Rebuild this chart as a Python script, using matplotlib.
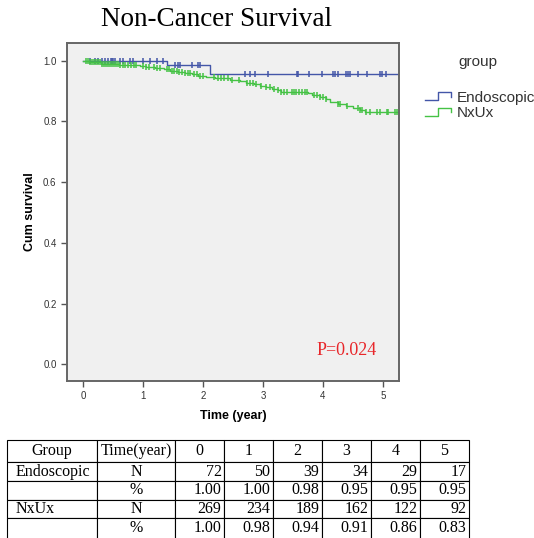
import numpy as np
import matplotlib
matplotlib.use("Agg")
import matplotlib.pyplot as plt
from matplotlib.lines import Line2D
from matplotlib.legend_handler import HandlerBase
from matplotlib.table import Table

# Kaplan-Meier steps (time, survival after the drop)
endo_times = [1.40, 2.12]
endo_surv = [0.984, 0.956]
endo_cens = [0.12, 0.20, 0.25, 0.32, 0.37, 0.42, 0.46, 0.48, 0.50, 0.53, 0.62, 0.67,
             0.78, 0.83, 1.00, 1.12, 1.23, 1.33, 1.53, 1.58, 1.62, 1.81, 1.92, 1.95,
             2.70, 2.78, 2.87, 3.08, 3.56, 3.59, 3.76, 3.98, 4.17, 4.20, 4.26, 4.39,
             4.42, 4.45, 4.59, 4.73, 4.95, 4.98, 5.06]

nxux_times = [0.10, 0.30, 0.60, 0.80, 0.95, 1.05, 1.20, 1.35, 1.45, 1.58, 1.70, 1.82,
              1.92, 2.05, 2.20, 2.45, 2.62, 2.72, 2.85, 2.95, 3.05, 3.15, 3.25, 3.30,
              3.75, 3.82, 3.95, 4.05, 4.12, 4.25, 4.38, 4.50, 4.62, 4.70]
nxux_surv = [0.994, 0.990, 0.987, 0.984, 0.981, 0.978, 0.975, 0.971, 0.967, 0.963, 0.959, 0.955,
             0.950, 0.946, 0.942, 0.937, 0.932, 0.927, 0.922, 0.917, 0.912, 0.907, 0.902, 0.898,
             0.892, 0.886, 0.880, 0.872, 0.864, 0.857, 0.850, 0.844, 0.838, 0.832]
nxux_cens = [0.05, 0.08, 0.12, 0.15, 0.18, 0.22, 0.25, 0.28, 0.32, 0.35, 0.38, 0.42, 0.45,
             0.48, 0.52, 0.55, 0.58, 0.62, 0.66, 0.70, 0.75, 0.80, 0.85, 0.88,
             1.00, 1.05, 1.10, 1.18, 1.23, 1.28, 1.40, 1.44, 1.48, 1.52, 1.56, 1.60,
             1.65, 1.70, 1.75, 1.78, 1.85, 1.90, 1.95, 2.00, 2.18, 2.25, 2.30, 2.35,
             2.42, 2.48, 2.60, 2.73, 2.78, 2.83, 2.88, 2.97, 3.05, 3.12, 3.18, 3.25,
             3.30, 3.35, 3.40, 3.48, 3.52, 3.55, 3.60, 3.65, 3.70, 3.73, 3.85, 3.90,
             3.95, 4.00, 4.05, 4.25, 4.28, 4.40, 4.58, 4.62, 4.66, 4.72, 4.78, 4.90,
             4.95, 5.07, 5.09, 5.20, 5.23]

end_time = 5.4
p_text = "P=0.024"

# table below the plot
years = ["0", "1", "2", "3", "4", "5"]
endo_n = [72, 50, 39, 34, 29, 17]
endo_pct = [1.00, 1.00, 0.98, 0.95, 0.95, 0.95]
nxux_n = [269, 234, 189, 162, 122, 92]
nxux_pct = [1.00, 0.98, 0.94, 0.91, 0.86, 0.83]

BLUE = "#4356a8"
GREEN = "#45c245"
SANS = "Liberation Sans"
SERIF = "Liberation Serif"


def km_curve(times, surv):
    t = np.concatenate([[0.0], times, [end_time]])
    s = np.concatenate([[1.0], surv, [surv[-1]]])
    return t, s


def surv_at(t, s, pts):
    idx = np.searchsorted(t, pts, side="right") - 1
    return s[idx]


class StepHandler(HandlerBase):
    def create_artists(self, legend, orig_handle, xdescent, ydescent,
                       width, height, fontsize, trans):
        w, h = width, height
        xs = np.array([0, 0.45, 0.45, 0.85, 0.85]) * w - xdescent
        ys = np.array([0.15, 0.15, 0.85, 0.85, 0.45]) * h - ydescent
        ln = Line2D(xs, ys, color=orig_handle.get_color(), lw=1.0, transform=trans)
        return [ln]


fig = plt.figure(figsize=(5.34, 5.38), dpi=100)
ax = fig.add_axes([67 / 534, 1 - 381 / 538, 332 / 534, 338 / 538])
ax.set_facecolor("#f0f0f0")

lines = []
for times, surv, cens, col, name in [(endo_times, endo_surv, endo_cens, BLUE, "Endoscopic"),
                                     (nxux_times, nxux_surv, nxux_cens, GREEN, "NxUx")]:
    t, s = km_curve(times, surv)
    ln, = ax.step(t, s, where="post", color=col, lw=1.0, label=name)
    ax.plot(cens, surv_at(t, s, np.array(cens)), ls="none", marker="|",
            ms=5, mew=1.1, color=col)
    lines.append(ln)

ax.set_xlim(-0.27, 5.27)
ax.set_ylim(-0.055, 1.058)
ax.set_xticks(range(6))
ax.set_yticks([0.0, 0.2, 0.4, 0.6, 0.8, 1.0])
ax.set_yticklabels(["0.0", "0.2", "0.4", "0.6", "0.8", "1.0"])
ax.tick_params(labelsize=7, labelcolor="#333333", color="#555555",
               length=4, width=1)
for lab in ax.get_xticklabels() + ax.get_yticklabels():
    lab.set_fontfamily(SANS)
for sp in ax.spines.values():
    sp.set_color("#666666")
    sp.set_linewidth(1.4)

ax.set_xlabel("Time (year)", fontsize=9, fontweight="bold", family=SANS, labelpad=6)
ax.set_ylabel("Cum survival", fontsize=9, fontweight="bold", family=SANS, labelpad=5)

ax.text(4.4, 0.044, p_text, color="#e8262a", fontsize=13,
        family=SERIF, ha="center", va="center")

fig.text(0.405, 0.963, "Non-Cancer Survival", fontsize=19.5,
         family=SERIF, ha="center", va="center")

# legend: title placed separately, SPSS leaves a gap under it
fig.text(478 / 534, 1 - 62 / 538, "group", fontsize=11, family=SANS,
         color="#333333", ha="center", va="center")
leg = fig.legend(handles=lines, labels=["Endoscopic", "NxUx"],
                 handler_map={Line2D: StepHandler()},
                 loc="upper left", bbox_to_anchor=(420 / 534, 1 - 86 / 538),
                 frameon=False, prop={"family": SANS, "size": 11},
                 handlelength=2.0, handletextpad=0.1, labelspacing=0.1,
                 borderaxespad=0, borderpad=0.3)
for txt in leg.get_texts():
    txt.set_color("#333333")

# table (last row runs past the bottom edge, as in the source image)
tax = fig.add_axes([7 / 534, 1 - 539 / 538, 462 / 534, 99 / 538])
tax.axis("off")
tbl = Table(tax, bbox=[0, 0, 1, 1])
col_w = [90, 78, 49, 49, 49, 49, 49, 49]
row_h = [22, 19, 19, 18, 21]

rows = [
    ["Group", "Time(year)"] + years,
    ["Endoscopic", "N"] + [str(v) for v in endo_n],
    ["", "%"] + [f"{v:.2f}" for v in endo_pct],
    ["NxUx", "N"] + [str(v) for v in nxux_n],
    ["", "%"] + [f"{v:.2f}" for v in nxux_pct],
]
for r, row in enumerate(rows):
    for c, val in enumerate(row):
        if r == 0 or c == 1:
            loc = "center"
        elif c == 0:
            loc = "left"
        else:
            loc = "right"
        cell = tbl.add_cell(r, c, width=col_w[c], height=row_h[r], text=val, loc=loc)
        cell.PAD = 0.05 if loc == "right" else 0.1
        cell.set_linewidth(0.8)
        cell.get_text().set_fontfamily(SERIF)
tbl.auto_set_font_size(False)
tbl.set_fontsize(11.5)
tax.add_table(tbl)

fig.savefig("out.png", dpi=100)
